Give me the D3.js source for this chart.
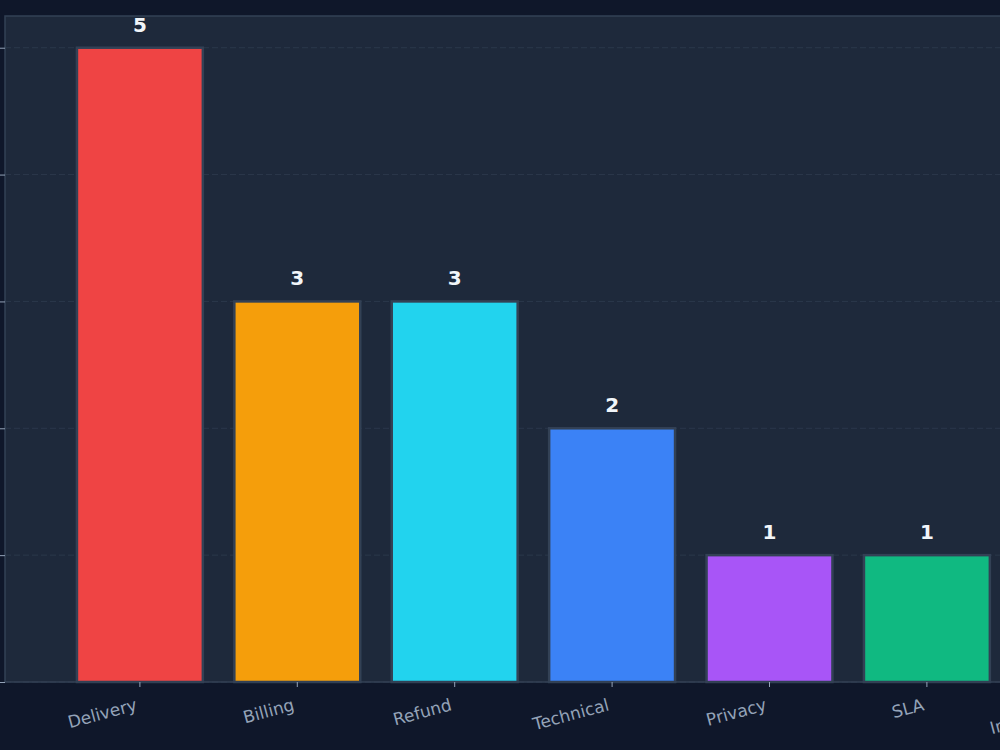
<!DOCTYPE html>
<html>
<head>
<meta charset="utf-8">
<script src="https://cdn.jsdelivr.net/npm/d3@7"></script>
<style>
  html, body { margin: 0; padding: 0; background: #0f172a; overflow: hidden; }
  svg { display: block; }
  .tick text { font-family: "DejaVu Sans", sans-serif; }
</style>
</head>
<body>
<div id="chart"></div>
<script>
const categories = ['Delivery', 'Billing', 'Refund', 'Technical', 'Privacy', 'SLA', 'Integration', 'Account', 'Other'];
const counts = [5, 3, 3, 2, 1, 1, 1, 1, 1];
const barColors = ['#ef4444', '#f59e0b', '#22d3ee', '#3b82f6', '#a855f7', '#10b981', '#ec4899', '#f97316', '#64748b'];
const yTicks = [0, 1, 2, 3, 4, 5];

const margin = { left: 5, top: 16, right: 20, bottom: 68 };
const width = 1529;
const height = 666;

const svg = d3.select('#chart')
    .append('svg')
    .attr('width', 1000)
    .attr('height', 750);

svg.append('rect')
    .attr('width', 1000)
    .attr('height', 750)
    .attr('fill', '#0f172a');

const g = svg.append('g')
    .attr('transform', `translate(${margin.left}, ${margin.top})`);

const x = d3.scaleBand()
    .domain(categories)
    .range([0, width])
    .paddingInner(0.2)
    .paddingOuter(0.457);

const y = d3.scaleLinear()
    .domain([0, 5.25])
    .range([height, 0]);

// plot background
g.append('rect')
    .attr('width', width)
    .attr('height', height)
    .attr('fill', '#1e293b');

// dashed grid
g.append('g')
    .selectAll('line')
    .data(yTicks)
    .join('line')
    .attr('x1', 0)
    .attr('x2', width)
    .attr('y1', d => y(d))
    .attr('y2', d => y(d))
    .attr('stroke', '#334155')
    .attr('stroke-opacity', 0.6)
    .attr('stroke-dasharray', '6,3');

const data = categories.map((c, i) => ({ name: c, value: counts[i], color: barColors[i] }));

g.append('g')
    .selectAll('rect')
    .data(data)
    .join('rect')
    .attr('x', d => x(d.name))
    .attr('y', d => y(d.value))
    .attr('width', x.bandwidth())
    .attr('height', d => y(0) - y(d.value))
    .attr('fill', d => d.color)
    .attr('stroke', '#334155')
    .attr('stroke-width', 2.5);

g.append('g')
    .selectAll('text')
    .data(data)
    .join('text')
    .attr('x', d => x(d.name) + x.bandwidth() / 2)
    .attr('y', d => y(d.value) - 16)
    .attr('text-anchor', 'middle')
    .attr('fill', '#f1f5f9')
    .attr('font-family', 'DejaVu Sans, sans-serif')
    .attr('font-weight', 'bold')
    .attr('font-size', 20)
    .text(d => d.value);

// spines
g.append('rect')
    .attr('width', width)
    .attr('height', height)
    .attr('fill', 'none')
    .attr('stroke', '#334155')
    .attr('stroke-width', 1.5);

const xAxis = g.append('g')
    .attr('transform', `translate(0, ${height})`)
    .call(d3.axisBottom(x).tickSize(5));
xAxis.select('.domain').remove();
xAxis.selectAll('.tick line').attr('stroke', '#94a3b8');
// right end of the rotated label sits under the tick
xAxis.selectAll('.tick text')
    .attr('fill', '#94a3b8')
    .attr('font-size', 17)
    .attr('text-anchor', 'end')
    .attr('x', 0)
    .attr('y', 0)
    .attr('dy', 0)
    .attr('transform', 'translate(-2, 28) rotate(-15)');

const yAxis = g.append('g')
    .call(d3.axisLeft(y).tickValues(yTicks).tickSize(6));
yAxis.select('.domain').remove();
yAxis.selectAll('.tick line').attr('stroke', '#94a3b8');
yAxis.selectAll('.tick text').attr('fill', '#94a3b8').attr('font-size', 16);
</script>
</body>
</html>
